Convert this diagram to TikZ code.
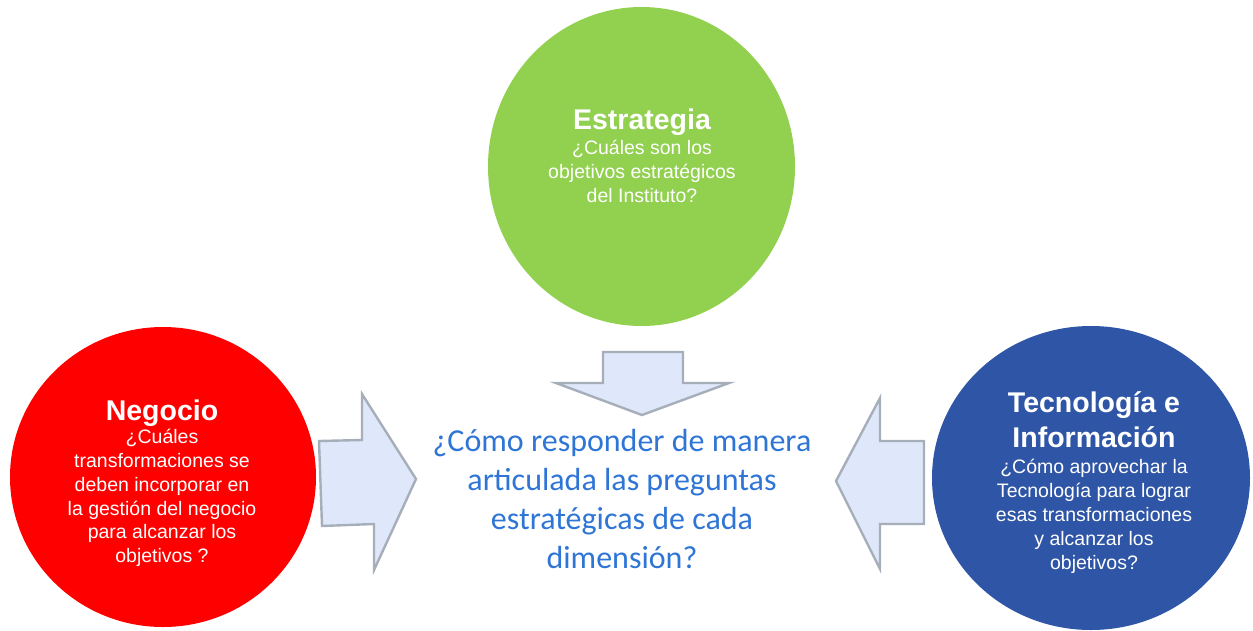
\documentclass[tikz,border=0pt]{standalone}
\usepackage{fontspec}
\setmainfont{Liberation Sans}
\newfontfamily\calibrifont{Carlito}
\definecolor{cgreen}{HTML}{92D050}
\definecolor{cred}{HTML}{FF0000}
\definecolor{cblue}{HTML}{2E55A6}
\definecolor{ctext}{HTML}{2E75D6}
\definecolor{afill}{HTML}{DEE8FA}
\definecolor{aline}{HTML}{A6AEBA}
\tikzset{
  blob/.style={ellipse, minimum width=#1, inner sep=0pt},
  circtext/.style={text=white, align=center, inner sep=0pt, font=\fontsize{19.5}{23.8}\selectfont},
  blockarrow/.style={fill=afill, draw=aline, line width=2.4pt, line join=miter},
}
\usetikzlibrary{shapes.geometric}
\newcommand{\ttl}[1]{{\fontsize{28.5}{34}\selectfont\bfseries #1}}
\begin{document}
\begin{tikzpicture}[x=1pt,y=-1pt]
\useasboundingbox (0,0) rectangle (1253,630);
% circles
\fill[cgreen] (641.5,166.5) ellipse [x radius=153.5, y radius=159.5];
\fill[cred] (163,477) ellipse [x radius=153, y radius=150];
\fill[cblue] (1091,478) ellipse [x radius=159, y radius=152];
\node[blob=1pt] (est) at (641.5,166.5) {};
\node[blob=1pt] (neg) at (163,477) {};
\node[blob=1pt] (tec) at (1091,478) {};
% texts
\node[circtext, anchor=north] (estT) at (642,109) {\ttl{Estrategia}\\[1pt]
¿Cuáles son los\\ objetivos estratégicos\\ del Instituto?};
\node[circtext, anchor=north] (negT) at (162,400) {\ttl{Negocio}\\[-1pt]
¿Cuáles\\ transformaciones se\\ deben incorporar en\\ la gestión del negocio\\ para alcanzar los\\ objetivos ?};
\node[circtext, anchor=north] (tecT) at (1094,391) {\ttl{Tecnología e}\\[7pt] \ttl{Información}\\[3pt]
¿Cómo aprovechar la\\ Tecnología para lograr\\ esas transformaciones\\ y alcanzar los\\ objetivos?};
% block arrows
\draw[blockarrow] (603,352) -- (683,352) -- (683,383) -- (729,383) -- (642,415) -- (556,383) -- (603,383) -- cycle;
\draw[blockarrow] (319,441) -- (362,440) -- (362,394) -- (416,479) -- (374,570) -- (374,524) -- (322,526) -- cycle;
\draw[blockarrow] (924,441) -- (880,441) -- (880,398) -- (836,481) -- (880,569) -- (880,524) -- (924,524) -- cycle;
% centre text
\node[text=ctext, align=center, inner sep=0pt, anchor=north,
  font=\calibrifont\fontsize{32}{39}\selectfont] (q) at (622,429)
  {¿Cómo responder de manera\\ articulada las preguntas\\ estratégicas de cada\\ dimensión?};
\end{tikzpicture}
\end{document}
